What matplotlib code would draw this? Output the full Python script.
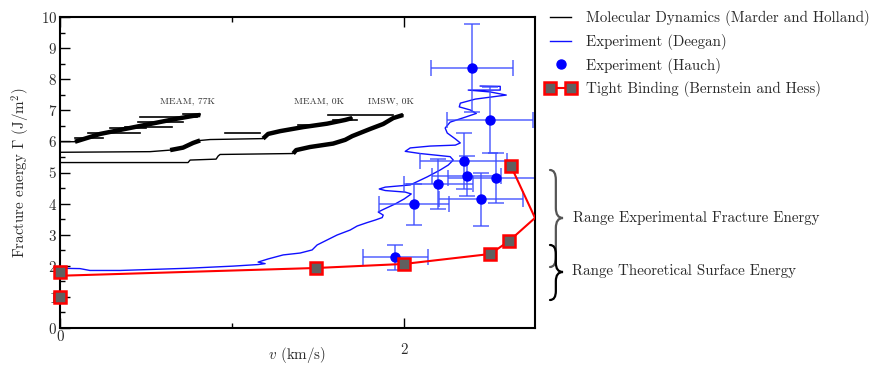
import matplotlib
matplotlib.use("Agg")
import matplotlib.pyplot as plt
from matplotlib.path import Path
from matplotlib.patches import PathPatch
from matplotlib.lines import Line2D
from matplotlib.legend_handler import HandlerLine2D

plt.rcParams['font.family'] = ['cmr10', 'DejaVu Serif']
plt.rcParams['mathtext.fontset'] = 'cm'
plt.rcParams['axes.formatter.use_mathtext'] = True
plt.rcParams['axes.unicode_minus'] = False

# ---------------- data ----------------
# Molecular dynamics curves (Marder and Holland)
md77_x = [0, 0.087, 0.233, 0.378, 0.523, 0.669, 0.773, 0.814]
md77_y = [5.99, 5.99, 6.24, 6.40, 6.56, 6.72, 6.82, 6.85]
md0_x = [0, 0.523, 0.640, 0.715, 0.773, 0.814, 0.872, 1.180, 1.209, 1.279, 1.413, 1.552, 1.657, 1.698]
md0_y = [5.65, 5.67, 5.72, 5.80, 5.95, 6.03, 6.06, 6.09, 6.24, 6.33, 6.46, 6.57, 6.69, 6.75]
imsw_x = [0, 0.744, 0.756, 0.907, 0.919, 0.930, 1.355, 1.372, 1.453, 1.587, 1.657, 1.698, 1.802, 1.878, 1.936, 1.994]
imsw_y = [5.32, 5.32, 5.40, 5.43, 5.53, 5.58, 5.61, 5.72, 5.82, 5.93, 6.05, 6.17, 6.40, 6.56, 6.75, 6.85]
# horizontal streaks in MD traces
streak_x0 = [0.087, 0.163, 0.29, 0.378, 0.453, 0.465, 0.715, 0.959, 1.384, 1.558, 1.587]
streak_x1 = [0.25, 0.465, 0.50, 0.651, 0.715, 0.797, 0.814, 1.163, 1.512, 1.936, 1.727]
streak_y = [6.10, 6.26, 6.42, 6.47, 6.63, 6.79, 6.87, 6.26, 6.53, 6.85, 6.69]

# Experiment (Deegan)
deegan_x = [0.000, 0.116, 0.174, 0.349, 0.738, 1.006, 1.151, 1.192, 1.151, 1.209, 1.297, 1.395,
            1.465, 1.494, 1.570, 1.610, 1.686, 1.727, 1.785, 1.831, 1.872, 1.878, 1.849, 1.878,
            1.948, 2.000, 2.041, 2.006, 1.890, 1.855, 1.890, 2.035, 2.134, 2.209, 2.256, 2.285,
            2.267, 2.093, 2.006, 2.035, 2.151, 2.297, 2.326, 2.297, 2.250, 2.238, 2.267, 2.355,
            2.419, 2.384, 2.320, 2.326, 2.413, 2.593, 2.500, 2.372, 2.558, 2.558, 2.442]
deegan_y = [1.92, 1.91, 1.85, 1.85, 1.92, 1.99, 2.04, 2.07, 2.12, 2.22, 2.35, 2.41,
            2.51, 2.67, 2.88, 2.99, 3.15, 3.28, 3.39, 3.47, 3.55, 3.63, 3.73, 3.81,
            3.99, 4.15, 4.31, 4.37, 4.42, 4.47, 4.53, 4.60, 4.86, 5.08, 5.24, 5.40,
            5.51, 5.61, 5.68, 5.79, 5.85, 5.88, 5.95, 6.08, 6.27, 6.43, 6.62, 6.78,
            6.90, 7.01, 7.11, 7.23, 7.36, 7.49, 7.59, 7.65, 7.65, 7.77, 7.78]

# Experiment (Hauch)
hauch_x = [2.394, 2.496, 2.345, 2.364, 2.535, 2.446, 2.198, 2.058, 1.948]
hauch_y = [8.35, 6.69, 5.37, 4.89, 4.83, 4.14, 4.63, 3.98, 2.27]
hauch_xerr = [0.24, 0.25, 0.255, 0.20, 0.28, 0.245, 0.20, 0.205, 0.19]
hauch_yerr = [1.42, 1.07, 0.90, 0.65, 0.80, 0.86, 0.80, 0.66, 0.40]

# Tight binding (Bernstein and Hess)
tb_line_x = [0, 1.49, 2.0, 2.5, 2.61, 2.76, 2.62]
tb_line_y = [1.68, 1.93, 2.06, 2.38, 2.80, 3.54, 5.21]
tb_mark_x = [0, 0, 1.49, 2.0, 2.5, 2.61, 2.62]
tb_mark_y = [1.0, 1.8, 1.93, 2.06, 2.38, 2.80, 5.21]

x_ticks = [0, 2]
x_tick_labels = ['0', '2']
y_ticks = list(range(0, 11))

md_labels = [("MEAM, 77K", 0.74), ("MEAM, 0K", 1.506), ("IMSW, 0K", 1.924)]

# ---------------- figure ----------------
W, H = 875, 366
fig = plt.figure(figsize=(W / 100, H / 100), dpi=100)
ax = fig.add_axes([60 / W, 1 - 328 / H, (535 - 60) / W, (328 - 17) / H])
TXT = '#2a2a2a'
FS = 10.8

# MD traces
for xs, ys in [(md77_x, md77_y), (md0_x, md0_y), (imsw_x, imsw_y)]:
    ax.plot(xs, ys, color='black', lw=1.0)
for xs, ys, segs in [(md77_x, md77_y, [(1, 8)]),
                     (md0_x, md0_y, [(2, 6), (7, 14)]),
                     (imsw_x, imsw_y, [(6, 16)])]:
    for a, b in segs:
        ax.plot(xs[a:b], ys[a:b], color='black', lw=3.2, solid_capstyle='butt')
for x0, x1, y in zip(streak_x0, streak_x1, streak_y):
    ax.plot([x0, x1], [y, y], color='black', lw=1.2)

for lab, xc in md_labels:
    ax.text(xc, 7.3, lab, fontsize=7, ha='center', va='center', color='#333333')

# Deegan
ax.plot(deegan_x, deegan_y, color='#1010ff', lw=1.0)

# Hauch
ax.errorbar(hauch_x, hauch_y, xerr=hauch_xerr, yerr=hauch_yerr, fmt='none',
            ecolor='#3a4cff', elinewidth=1.2, capsize=6, capthick=1.2, alpha=0.8)
ax.plot(hauch_x, hauch_y, 'o', color='#0000ff', ms=6.5, zorder=5)

# Tight binding
ax.plot(tb_line_x, tb_line_y, color='#ff0000', lw=1.5, zorder=6)
ax.plot(tb_mark_x, tb_mark_y, 's', ms=8.5, mfc='#606060', mec='#ff0000', mew=1.8,
        ls='none', zorder=7, clip_on=False)

ax.set_xlim(0, 2.76)
ax.set_ylim(0, 10)
ax.set_xticks(x_ticks)
ax.set_xticklabels(x_tick_labels)
ax.set_xticks([1], minor=True)
ax.set_yticks(y_ticks)
ax.set_yticks([v + 0.5 for v in range(10)], minor=True)
ax.tick_params(axis='both', which='both', direction='in', colors='black',
               labelcolor=TXT, labelsize=FS)
ax.tick_params(axis='x', which='both', top=True, bottom=True)
ax.tick_params(axis='y', which='both', left=True, right=False)
ax.tick_params(which='major', length=7, width=1.0)
ax.tick_params(which='minor', length=3.5, width=1.0)
for sp in ax.spines.values():
    sp.set_linewidth(1.5)
xt = ax.xaxis.get_major_ticks()
xt[0].set_pad(1.5)
xt[1].set_pad(11)
ax.tick_params(axis='y', pad=2)

fig.text(297 / W, 1 - 355 / H, r'$v$ (km/s)', fontsize=FS, color=TXT, ha='center', va='center')
ax.set_ylabel(r'Fracture energy $\Gamma$ (J/m$^2$)', fontsize=FS, color=TXT, labelpad=6)

# legend
h_md = Line2D([], [], color='black', lw=1.0)
h_de = Line2D([], [], color='#1010ff', lw=1.0)
h_ha = Line2D([], [], color='#0000ff', marker='o', ms=6.5, ls='none')
h_tb = Line2D([], [], color='#ff0000', lw=1.5, marker='s', ms=8.5, mfc='#606060', mec='#ff0000', mew=1.8)
leg = fig.legend([h_md, h_de, h_ha, h_tb],
                 ['Molecular Dynamics (Marder and Holland)', 'Experiment (Deegan)',
                  'Experiment (Hauch)', 'Tight Binding (Bernstein and Hess)'],
                 loc='upper left', bbox_to_anchor=(550 / W, 1 - 10 / H), bbox_transform=fig.transFigure,
                 frameon=False, fontsize=FS, handlelength=1.4, handletextpad=1.0,
                 labelspacing=0.52, borderaxespad=0, borderpad=0,
                 handler_map={h_tb: HandlerLine2D(numpoints=2, marker_pad=0.0)})
for t in leg.get_texts():
    t.set_color(TXT)


def brace(x0, yt, yb, ym, w, r, color, lw):
    xm = x0 + w * 0.45
    pts = [(x0, yt), (xm, yt), (xm, yt + r),
           (xm, ym - r), (xm, ym), (x0 + w, ym),
           (xm, ym), (xm, ym + r),
           (xm, yb - r), (xm, yb), (x0, yb)]
    codes = [Path.MOVETO, Path.CURVE3, Path.CURVE3,
             Path.LINETO, Path.CURVE3, Path.CURVE3,
             Path.CURVE3, Path.CURVE3,
             Path.LINETO, Path.CURVE3, Path.CURVE3]
    verts = [(x / W, 1 - y / H) for x, y in pts]
    fig.add_artist(PathPatch(Path(verts, codes), fill=False, edgecolor=color, lw=lw,
                             transform=fig.transFigure, capstyle='round'))


brace(550, 170, 267, 218, 13, 10, '#555555', 1.6)
brace(550, 245, 300, 272, 13, 9, 'black', 1.6)
fig.text(573 / W, 1 - 218 / H, 'Range Experimental Fracture Energy', fontsize=FS,
         color=TXT, va='center', ha='left')
fig.text(572 / W, 1 - 271 / H, 'Range Theoretical Surface Energy', fontsize=FS,
         color=TXT, va='center', ha='left')

fig.savefig('out.png', dpi=100)
